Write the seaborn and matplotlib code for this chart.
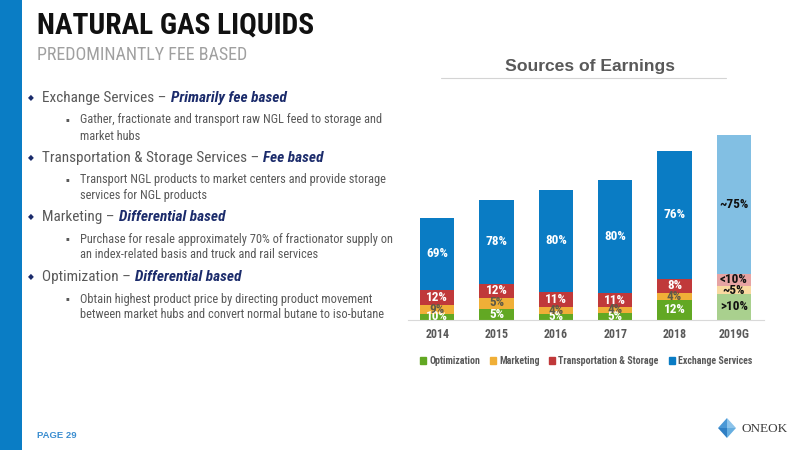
import matplotlib
matplotlib.use('Agg')
import matplotlib.pyplot as plt
from matplotlib import font_manager
from matplotlib.patches import Polygon, Rectangle, Patch
import pandas as pd
import seaborn as sns

sns.set_style('white')

names = {f.name for f in font_manager.fontManager.ttflist}
NARROW = 'Liberation Sans'
K = 0.84
for cand in ['Liberation Sans Narrow', 'Arial Narrow', 'Roboto Condensed']:
    if cand in names:
        NARROW, K = cand, 1.0
        break
plt.rcParams['font.family'] = [NARROW, 'DejaVu Sans']

# Sources of earnings (bar segment sizes, relative units)
years = ['2014', '2015', '2016', '2017', '2018', '2019G']
optimization = [6.0, 11.0, 5.7, 7.0, 20.0, 25.7]
marketing = [8.3, 11.0, 6.6, 5.3, 6.7, 7.6]
transport_storage = [15.4, 14.0, 15.7, 14.4, 14.0, 12.7]
exchange = [72.3, 84.0, 101.3, 112.6, 128.3, 138.7]

opt_labels = ['10%', '5%', '5%', '5%', '12%', '>10%']
mkt_labels = ['9%', '5%', '4%', '4%', '4%', '~5%']
ts_labels = ['12%', '12%', '11%', '11%', '8%', '<10%']
ex_labels = ['69%', '78%', '80%', '80%', '76%', '~75%']

series_names = ['Optimization', 'Marketing', 'Transportation & Storage', 'Exchange Services']
colors = ['#62A823', '#F0AF37', '#C0393A', '#0A7CC4']
guide_colors = ['#A9D08E', '#F9D9A0', '#E6A3A3', '#82BFE3']

# Left side text
headings = ['Exchange Services –', 'Transportation & Storage Services –', 'Marketing –', 'Optimization –']
emphasis = ['Primarily fee based', 'Fee based', 'Differential based', 'Differential based']
details = [
    ['Gather, fractionate and transport raw NGL feed to storage and', 'market hubs'],
    ['Transport NGL products to market centers and provide storage', 'services for NGL products'],
    ['Purchase for resale approximately 70% of fractionator supply on', 'an index-related basis and truck and rail services'],
    ['Obtain highest product price by directing product movement', 'between market hubs and convert normal butane to iso-butane'],
]

GRAY = '#595959'
NAVY = '#1B2B6B'

df = pd.DataFrame({'year': years, 'Optimization': optimization, 'Marketing': marketing,
                   'Transportation & Storage': transport_storage, 'Exchange Services': exchange})

fig = plt.figure(figsize=(8, 4.5), dpi=100)

# background canvas in pixel coordinates
bg = fig.add_axes([0, 0, 1, 1])
bg.set_xlim(0, 800)
bg.set_ylim(450, 0)
bg.axis('off')
bg.add_patch(Rectangle((0, 0), 22, 450, color='#0A7DC5', lw=0))

bg.text(37, 25, 'NATURAL GAS LIQUIDS', fontsize=21.2 * K, fontweight='bold', color='#111111', va='center')
bg.text(37, 55, 'PREDOMINANTLY FEE BASED', fontsize=13 * K, color='#A0A0A0', va='center')
bg.text(590, 67, 'Sources of Earnings', family='Liberation Sans', fontsize=12.6, fontweight='bold',
        color=GRAY, ha='center', va='center')
bg.plot([441, 726], [77.5, 77.5], color='#D4D4D4', lw=0.8)

main_y = [98, 158, 217, 277]
for i, y in enumerate(main_y):
    bg.text(31, y, '◆', family='DejaVu Sans', fontsize=5.5, color=NAVY, ha='center', va='center')
    t1 = bg.text(42, y, headings[i], fontsize=11 * K, color=GRAY, va='center')
    bg.annotate(emphasis[i], xy=(1, 0), xycoords=t1, xytext=(3, 0), textcoords='offset points',
                fontsize=11 * K, color=NAVY, fontweight='bold', fontstyle='italic', va='bottom')
    for j, line in enumerate(details[i]):
        ly = y + 22 + 16 * j
        if j == 0:
            bg.text(67, ly, '▪', family='DejaVu Sans', fontsize=4, color=GRAY, ha='center', va='center')
        bg.text(80, ly, line, fontsize=8.9 * K, color=GRAY, va='center')

bg.text(37, 435, 'PAGE 29', family='Liberation Sans', fontsize=6.8, fontweight='bold',
        color='#3A8DD0', va='center')

# logo
cx, cy = 727, 428
bg.add_patch(Polygon([(cx, cy - 10), (cx + 9, cy), (cx, cy)], color='#8CC3EA', lw=0))
bg.add_patch(Polygon([(cx, cy - 10), (cx - 9, cy), (cx, cy)], color='#4A98D6', lw=0))
bg.add_patch(Polygon([(cx - 9, cy), (cx, cy + 10), (cx, cy)], color='#2F7FC4', lw=0))
bg.add_patch(Polygon([(cx + 9, cy), (cx, cy + 10), (cx, cy)], color='#66AEE0', lw=0))
bg.text(741, 429, 'ONEOK', family='Liberation Serif', fontsize=9.5, color='#3D3D3D', va='center')

# chart
ax = fig.add_axes([407.5 / 800, 1 - 319.5 / 450, 356 / 800, 200 / 450])
ax.patch.set_alpha(0)

cols = series_names
palettes = [[c] * 5 + [g] for c, g in zip(colors, guide_colors)]
cum = df[cols].cumsum(axis=1)
for k in range(len(cols) - 1, -1, -1):
    sns.barplot(x=df['year'], y=cum[cols[k]], hue=df['year'], palette=palettes[k], legend=False,
                width=0.575, saturation=1, linewidth=0, ax=ax)

all_labels = [opt_labels, mkt_labels, ts_labels, ex_labels]
label_colors = ['white', '#5E5A48', 'white', 'white']
for k, col in enumerate(cols):
    bottoms = cum[col] - df[col]
    for i in range(len(years)):
        c = '#111111' if years[i].endswith('G') else label_colors[k]
        ax.text(i, bottoms[i] + df[col][i] / 2, all_labels[k][i], ha='center', va='center',
                fontsize=9.5 * K, fontweight='bold', color=c, clip_on=True)

ax.set_xlim(-0.5, 5.5)
ax.set_ylim(0, 200)
ax.set_xlabel('')
ax.set_ylabel('')
ax.set_yticks([])
for s in ['top', 'left', 'right']:
    ax.spines[s].set_visible(False)
ax.spines['bottom'].set_color('#D9D9D9')
ax.tick_params(axis='x', length=0, pad=6, labelsize=8.6 * K, labelcolor=GRAY)
for lbl in ax.get_xticklabels():
    lbl.set_fontweight('bold')

handles = [Patch(color=c) for c in colors]
fig.legend(handles, series_names, loc='center', bbox_to_anchor=(0.7325, 1 - 361 / 450), ncol=4,
           frameon=False, prop=dict(family=NARROW, weight='bold', size=7.15 * K), labelcolor=GRAY,
           handlelength=0.6, handleheight=0.6, handletextpad=0.3, columnspacing=1.0)

fig.savefig('out.png', dpi=100)
